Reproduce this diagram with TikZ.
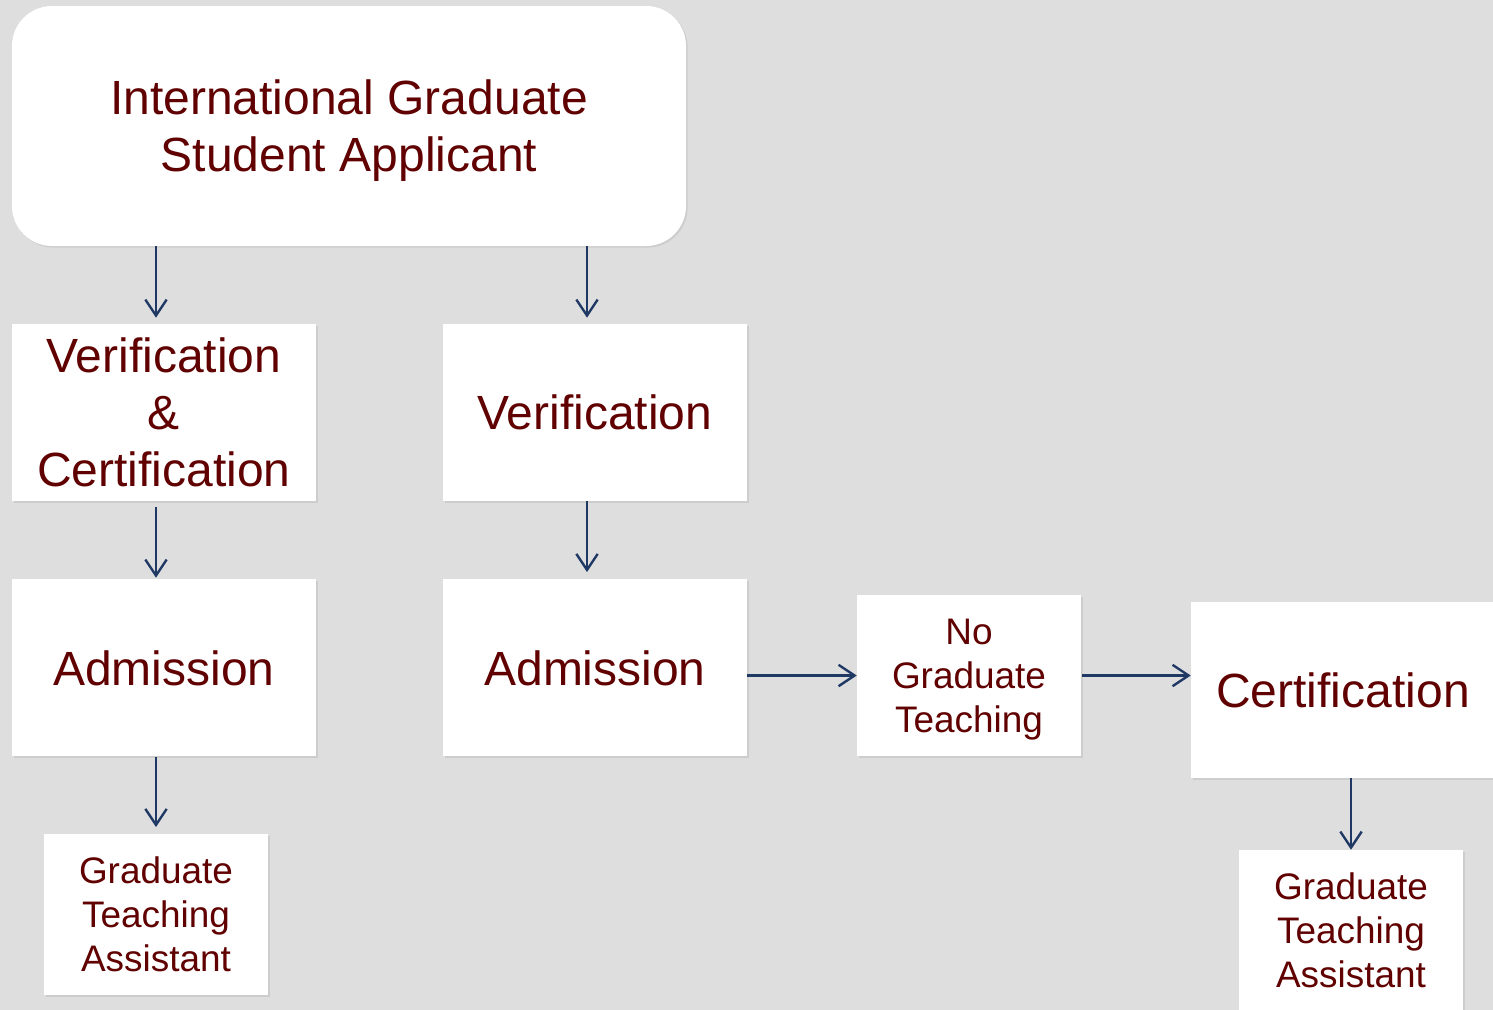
\documentclass[tikz,border=0pt]{standalone}
\usepackage{fontspec}
\setmainfont{Liberation Sans}
\usetikzlibrary{arrows.meta,shadows}
\definecolor{bg}{HTML}{DEDEDE}
\definecolor{txt}{HTML}{600000}
\definecolor{arr}{HTML}{1F3864}
\begin{document}
\begin{tikzpicture}[x=0.75pt,y=-0.75pt,
  box/.style={fill=white,draw=none,inner sep=0pt,align=center,text=txt,
    drop shadow={opacity=0.18,shadow xshift=1.2pt,shadow yshift=-1.2pt}},
  big/.style={box,font=\fontsize{36}{42.75}\selectfont,minimum width=228pt,minimum height=132.75pt},
  small/.style={box,font=\fontsize{27.7}{33}\selectfont,minimum width=168pt,minimum height=120.75pt},
  conn/.style={draw=arr,line width=1.8pt,-{Straight Barb[length=12pt,width=16pt,line width=1.8pt]}}]
\fill[bg] (0,0) rectangle (1493,1010);
\useasboundingbox (0,0) rectangle (1493,1010);
\node[box,font=\fontsize{36}{42.75}\selectfont,minimum width=505.5pt,minimum height=180pt,rounded corners=30pt,text depth=0pt] (top) at (349,126) {International Graduate\\Student Applicant};
\node[big] (vc) at (164,412.5) {Verification\\\&\\Certification};
\node[big] (ver) at (595,412.5) {Verification};
\node[big,text height=28pt] (admL) at (164,667.5) {Admission};
\node[big,text height=28pt] (admR) at (595,667.5) {Admission};
\node[small,text depth=0pt] (nogt) at (969,675.5) {No\\Graduate\\Teaching};
\node[big,minimum height=132pt] (cert) at (1343,690) {Certification};
\node[small] (gtaL) at (156,914.5) {Graduate\\Teaching\\Assistant};
\node[small] (gtaR) at (1351,930.5) {Graduate\\Teaching\\Assistant};
\coordinate (colR) at (587,0);
\draw[conn,shorten >=4.5pt] (top.south -| gtaL.center) -- (vc.north -| gtaL.center);
\draw[conn,shorten >=4.5pt] (top.south -| colR) -- (ver.north -| colR);
\draw[conn,shorten <=4.5pt,shorten >=0.75pt] (vc.south -| gtaL.center) -- (admL.north -| gtaL.center);
\draw[conn,shorten >=5pt] (ver.south -| colR) -- (admR.north -| colR);
\draw[conn,shorten <=0.75pt,shorten >=5pt] (admL.south -| gtaL.center) -- (gtaL.north);
\draw[conn] (admR.east |- nogt.west) -- (nogt.west);
\draw[conn,shorten <=0.75pt] (nogt.east) -- (cert.west |- nogt.east);
\draw[conn] (cert.south -| gtaR.center) -- (gtaR.north);
\end{tikzpicture}
\end{document}
